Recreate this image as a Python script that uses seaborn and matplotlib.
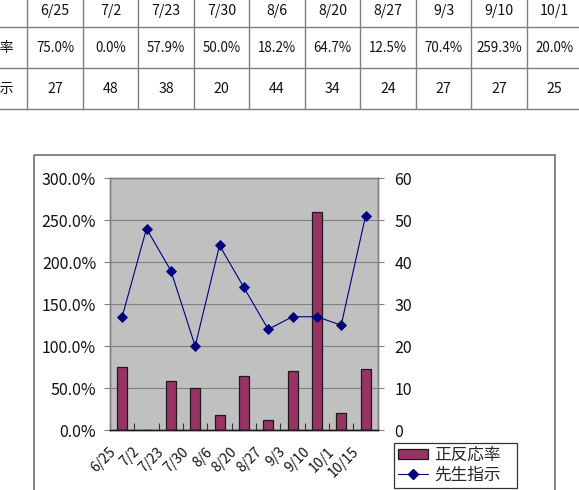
import matplotlib
matplotlib.use("Agg")
import matplotlib.pyplot as plt
import matplotlib.transforms as mtransforms
from matplotlib.patches import Rectangle, Patch
from matplotlib.lines import Line2D
import seaborn as sns
import pandas as pd

dates = ["6/25", "7/2", "7/23", "7/30", "8/6", "8/20", "8/27", "9/3", "9/10", "10/1", "10/15"]
rate = [75.0, 0.0, 57.9, 50.0, 18.2, 64.7, 12.5, 70.4, 259.3, 20.0, 72.7]
count = [27, 48, 38, 20, 44, 34, 24, 27, 27, 25, 51]
rate_name = "正反応率"
count_name = "先生指示"
left_ticks = [0, 50, 100, 150, 200, 250, 300]
right_ticks = [0, 10, 20, 30, 40, 50, 60]

sns.set_theme(style="white")
plt.rcParams["font.family"] = ["Noto Sans CJK JP", "DejaVu Sans"]

df = pd.DataFrame({"date": dates, "rate": rate, "count": count})

W, H = 579, 490
fig = plt.figure(figsize=(W / 100, H / 100), dpi=100)
fig.patch.set_facecolor("white")

# ---- background layer: data table + chart frame (pixel coordinates)
bg = fig.add_axes([0, 0, 1, 1])
bg.set_xlim(0, W)
bg.set_ylim(H, 0)
bg.axis("off")

col_x0, col_w = 27.3, 55.5
row_lines = [-15, 26.7, 68.3, 109.5]
row_centers = [11, 48, 89]
line_kw = dict(color="#7f7f7f", lw=1.0)
ncol = len(dates)
right_end = col_x0 + col_w * ncol
for y in row_lines:
    bg.plot([-40, right_end], [y, y], **line_kw)
for i in range(ncol + 1):
    x = col_x0 + col_w * i
    bg.plot([x, x], [row_lines[0], row_lines[-1]], **line_kw)
tfs = 9.6
for i, d in enumerate(dates):
    cx = col_x0 + col_w * (i + 0.5)
    if cx > W:  # column lies outside the visible (cropped) area
        continue
    bg.text(cx, row_centers[0], d, ha="center", va="center", fontsize=tfs + 0.6, color="#111111")
    bg.text(cx, row_centers[1], f"{rate[i]:.1f}%", ha="center", va="center", fontsize=tfs, color="#111111")
    bg.text(cx, row_centers[2], f"{count[i]}", ha="center", va="center", fontsize=tfs + 0.6, color="#111111")
bg.text(13.5, row_centers[1], rate_name, ha="right", va="center", fontsize=10, color="#111111")
bg.text(13.5, row_centers[2], count_name, ha="right", va="center", fontsize=10, color="#111111")

# chart frame
bg.add_patch(Rectangle((34.3, 154.7), 555 - 34.3, 400, fill=False, edgecolor="#707070", lw=1.2))

# ---- chart
left, right, top, bottom = 110, 377.7, 178.3, 430
ax = fig.add_axes([left / W, 1 - bottom / H, (right - left) / W, (bottom - top) / H])
ax.set_facecolor("#c0c0c0")
sns.barplot(data=df, x="date", y="rate", color="#993366", edgecolor="#1a1a1a",
            linewidth=0.9, width=0.41, saturation=1, ax=ax, zorder=2)
ax.set_ylim(0, 300)
ax.set_yticks(left_ticks)
ax.set_yticklabels([f"{v:.1f}%" for v in left_ticks])
ax.set_axisbelow(True)
ax.yaxis.grid(True, color="#808080", lw=0.8)
ax.xaxis.grid(False)
ax.set_xlabel("")
ax.set_ylabel("")

ax2 = ax.twinx()
sns.pointplot(data=df, x="date", y="count", color="#000080", markers="D",
              linewidth=0.8, markersize=5.5, ax=ax2)
ax2.set_ylim(0, 60)
ax2.set_yticks(right_ticks)
ax2.set_yticklabels([str(v) for v in right_ticks])
ax2.set_ylabel("")
ax2.set_xlabel("")
ax.set_xlim(-0.5, ncol - 0.5)

for a in (ax, ax2):
    for s in ("top", "left", "right"):
        a.spines[s].set_color("#808080")
        a.spines[s].set_linewidth(1.0)
    a.spines["bottom"].set_color("#1a1a1a")
    a.spines["bottom"].set_linewidth(1.0)

ax.tick_params(axis="y", which="major", direction="out", length=4, width=0.8,
               color="#808080", pad=6, labelsize=11.5, labelcolor="#111111", left=True)
ax2.tick_params(axis="y", which="major", direction="out", length=4, width=0.8,
                color="#808080", pad=8, labelsize=11.5, labelcolor="#111111", right=True)

# x axis: boundary tick marks (inward), labels at category centres
ax.set_xticks(range(ncol))
ax.set_xticklabels(dates, rotation=45, ha="right", fontsize=10, color="#111111")
ax.set_xticks([i + 0.5 for i in range(-1, ncol)], minor=True)
ax.tick_params(axis="x", which="major", length=0, pad=2)
ax.tick_params(axis="x", which="minor", direction="in", length=5, width=0.8,
               color="#333333", bottom=True)
offset = mtransforms.ScaledTranslation(-4 / 100, -12 / 100, fig.dpi_scale_trans)
for lbl in ax.get_xticklabels():
    lbl.set_transform(lbl.get_transform() + offset)

# legend
handles = [Patch(facecolor="#993366", edgecolor="#1a1a1a", linewidth=0.9),
           Line2D([0], [0], color="#000080", lw=0.8, marker="D", markersize=5.5)]
leg = ax.legend(handles, [rate_name, count_name], loc="upper left",
                bbox_to_anchor=(394 / W, 1 - 489 / H, (517 - 394) / W, (489 - 442.7) / H),
                bbox_transform=fig.transFigure, mode="expand",
                borderaxespad=0, frameon=True, fancybox=False, edgecolor="#333333",
                framealpha=1, fontsize=12, handlelength=1.8, handleheight=0.5,
                handletextpad=0.35, labelspacing=0.15, borderpad=0.25)
leg.get_frame().set_linewidth(0.9)
leg.set_zorder(10)

fig.savefig("out.png", dpi=100, facecolor="white")
